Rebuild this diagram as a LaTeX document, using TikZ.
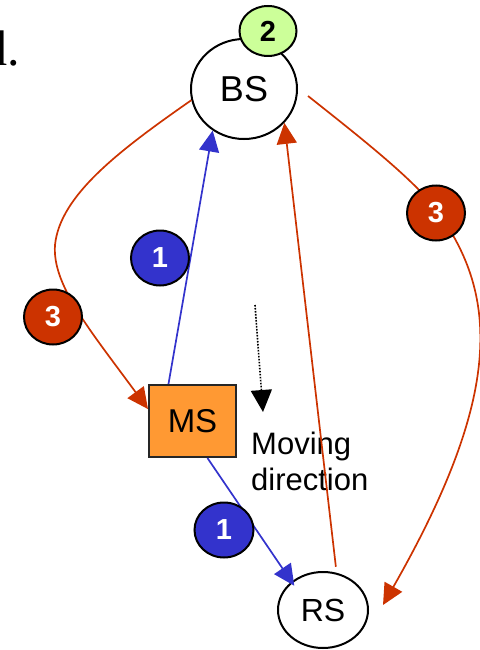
\documentclass[tikz,border=0pt]{standalone}
\usepackage{fontspec}
\setmainfont{Liberation Sans}
\newfontfamily\serifface{Liberation Serif}
\usetikzlibrary{arrows.meta,shapes.geometric,calc}
\definecolor{linkblue}{HTML}{3333CC}
\definecolor{linkred}{HTML}{CC3300}
\definecolor{badgegreen}{HTML}{CCFF99}
\definecolor{msorange}{HTML}{FF9933}

\begin{document}
\begin{tikzpicture}[x=1pt,y=-1pt,
  station/.style={ellipse,draw=black,line width=2pt,fill=white,inner sep=0pt,
    font=\fontsize{34}{38}\selectfont},
  badge/.style={ellipse,draw=black,line width=2pt,inner sep=0pt,
    minimum width=58pt,minimum height=55pt,font=\fontsize{29}{32}\selectfont\bfseries},
  bluebadge/.style={badge,fill=linkblue,text=white},
  redbadge/.style={badge,fill=linkred,text=white},
  link/.style={line width=1.7pt,-{Triangle[length=21pt,width=20pt]}},
  caption/.style={anchor=base west,inner sep=0pt,font=\fontsize{31}{31}\selectfont},
]
\useasboundingbox (0,0) rectangle (479,650);

% stray heading fragment at the top-left edge
\node[anchor=base west,inner sep=0pt,font=\serifface\fontsize{50}{50}\selectfont]
  (heading) at (-18,66) {d.};

% stations
\node[station,minimum width=106pt,minimum height=100pt,font=\fontsize{36}{40}\selectfont] (bs) at (244,89) {BS};
\node[rectangle,draw=black!85,line width=2pt,fill=msorange,minimum width=87pt,
  minimum height=72pt,inner sep=0pt,font=\fontsize{33}{36}\selectfont] (ms) at (192.5,421) {MS};
\node[station,minimum width=90pt,minimum height=76pt,font=\fontsize{32}{36}\selectfont] (rs) at (323,610) {RS};

% moving direction indicator
\coordinate (mvtop) at (255,305);
\coordinate (mvend) at (263,412);
\draw[line width=1.6pt,dash pattern=on 1.6pt off 1.4pt,-{Triangle[length=22pt,width=21pt]}]
  (mvtop) -- (mvend);
\node[caption] (mvone) at (251,454) {Moving};
\node[caption] (mvtwo) at (251,490) {direction};

% step 1: MS reports to BS and RS
\draw[link,linkblue] (ms.123.5) -- (bs.233);
\draw[link,linkblue,shorten >=-5pt] (ms.292.7) -- (rs.138.7);

% step 3: BS and RS notify
\draw[link,linkred,shorten <=6pt] (rs.70.8) -- (bs.320);
\draw[link,linkred] (bs.192) .. controls (120,150) and (60,195) .. (55,245)
  .. controls (52,285) and (90,330) .. (ms.165);
\draw[link,linkred] ($(bs.east)+(10,7)$) .. controls (370,145) and (420,185) .. (440,215)
  .. controls (500,300) and (500,400) .. ($(rs.east)+(14,-5)$);

% step badges
\node[badge,fill=badgegreen,minimum width=57pt,minimum height=50pt] (two) at (268,31) {2};
\node[bluebadge] (onetop) at (160,258) {1};
\node[bluebadge,minimum width=59pt] (onebot) at (224,530) {1};
\node[redbadge] (threeleft) at (53,317) {3};
\node[redbadge] (threeright) at (436,213) {3};
\end{tikzpicture}
\end{document}
